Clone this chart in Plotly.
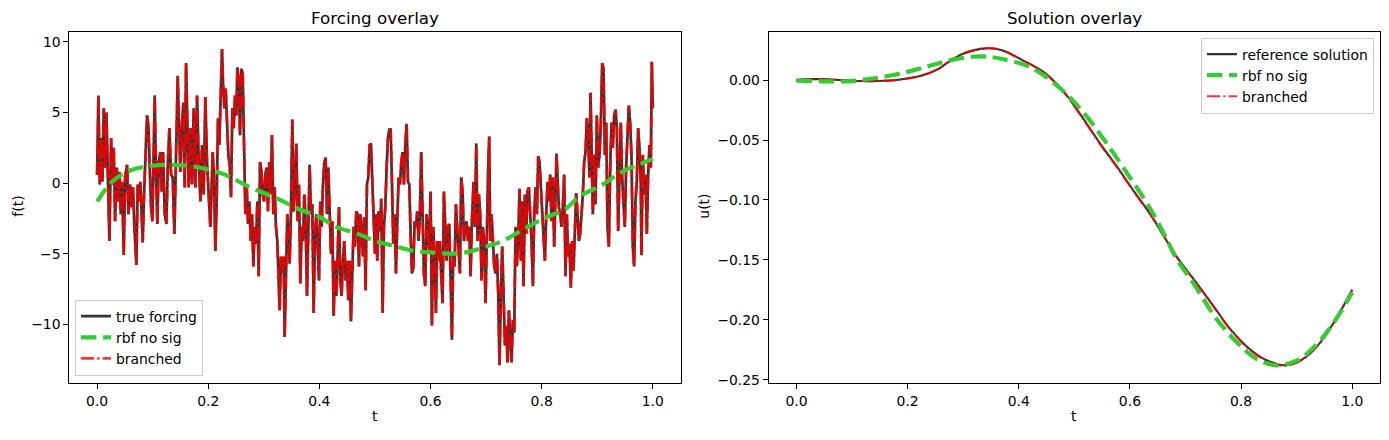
import plotly.graph_objects as go

# ---------------- data: forcing overlay (left) ----------------
T_FORCE = [
    0.0000, 0.0024, 0.0048, 0.0078, 0.0096, 0.0120, 0.0144, 0.0168, 0.0192, 0.0222,
    0.0252, 0.0276, 0.0300, 0.0324, 0.0354, 0.0378, 0.0402, 0.0426, 0.0450, 0.0480,
    0.0504, 0.0540, 0.0564, 0.0594, 0.0624, 0.0647, 0.0671, 0.0707, 0.0731, 0.0755,
    0.0779, 0.0803, 0.0821, 0.0845, 0.0875, 0.0899, 0.0923, 0.0947, 0.0971, 0.0995,
    0.1019, 0.1037, 0.1061, 0.1085, 0.1109, 0.1139, 0.1163, 0.1187, 0.1217, 0.1247,
    0.1271, 0.1301, 0.1331, 0.1361, 0.1391, 0.1421, 0.1451, 0.1475, 0.1499, 0.1529,
    0.1553, 0.1577, 0.1601,
    0.1649, 0.1679, 0.1709, 0.1739, 0.1769, 0.1799, 0.1829, 0.1859, 0.1888, 0.1918,
    0.1948, 0.1978, 0.2008, 0.2038, 0.2056, 0.2080, 0.2104, 0.2128, 0.2152, 0.2176,
    0.2200, 0.2224, 0.2248, 0.2266, 0.2290, 0.2314, 0.2338, 0.2362, 0.2386, 0.2410,
    0.2434, 0.2458, 0.2482, 0.2506, 0.2524, 0.2548, 0.2572, 0.2596, 0.2620, 0.2644,
    0.2668, 0.2692, 0.2716, 0.2740, 0.2764, 0.2788, 0.2812, 0.2836, 0.2860, 0.2884,
    0.2908, 0.2932, 0.2956, 0.2980, 0.3004, 0.3027, 0.3051, 0.3075, 0.3099, 0.3123,
    0.3147, 0.3171, 0.3195, 0.3219, 0.3243,
    0.3285, 0.3309, 0.3333, 0.3357, 0.3375, 0.3399, 0.3423, 0.3447, 0.3465, 0.3489,
    0.3513, 0.3537, 0.3561, 0.3585, 0.3609, 0.3633, 0.3657, 0.3681, 0.3705, 0.3729,
    0.3753, 0.3777, 0.3801, 0.3825, 0.3849, 0.3873, 0.3897, 0.3921, 0.3945, 0.3969,
    0.3993, 0.4017, 0.4041, 0.4065, 0.4089, 0.4113, 0.4137, 0.4161, 0.4185, 0.4209,
    0.4233, 0.4257, 0.4281, 0.4305, 0.4329, 0.4353, 0.4376, 0.4400, 0.4424, 0.4448,
    0.4472, 0.4496, 0.4520, 0.4544, 0.4568, 0.4592, 0.4616, 0.4640, 0.4664, 0.4688,
    0.4712, 0.4736, 0.4760, 0.4784, 0.4808, 0.4832, 0.4856, 0.4880, 0.4904, 0.4928,
    0.4952, 0.4976, 0.5000, 0.5024,
    0.5042, 0.5066, 0.5090, 0.5114, 0.5138, 0.5162, 0.5186, 0.5210, 0.5234, 0.5258,
    0.5282, 0.5306, 0.5330, 0.5354, 0.5378, 0.5402, 0.5426, 0.5450, 0.5474, 0.5498,
    0.5522, 0.5546, 0.5570, 0.5594, 0.5618, 0.5642, 0.5666, 0.5690, 0.5714, 0.5737,
    0.5761, 0.5785, 0.5809, 0.5833, 0.5857, 0.5881, 0.5905, 0.5929, 0.5953, 0.5977,
    0.6001, 0.6025, 0.6049, 0.6073, 0.6097, 0.6121, 0.6145, 0.6169, 0.6193, 0.6217,
    0.6241, 0.6265, 0.6289, 0.6313, 0.6337, 0.6361, 0.6385, 0.6409, 0.6433, 0.6457,
    0.6481, 0.6505, 0.6529, 0.6553, 0.6577, 0.6601, 0.6625, 0.6649, 0.6673, 0.6697,
    0.6721, 0.6745,
    0.6775, 0.6799, 0.6823, 0.6847, 0.6871, 0.6894, 0.6918, 0.6942, 0.6966, 0.6990,
    0.7014, 0.7038, 0.7056, 0.7074, 0.7098, 0.7122, 0.7146, 0.7170, 0.7194, 0.7218,
    0.7242, 0.7266, 0.7290, 0.7314, 0.7338, 0.7362, 0.7386, 0.7410, 0.7434, 0.7458,
    0.7482, 0.7506, 0.7530, 0.7554, 0.7578, 0.7602, 0.7626, 0.7650, 0.7674, 0.7698,
    0.7722, 0.7746, 0.7770, 0.7794, 0.7818, 0.7842, 0.7866, 0.7890, 0.7914, 0.7938,
    0.7962, 0.7986, 0.8010, 0.8034, 0.8058, 0.8082, 0.8106, 0.8129, 0.8153, 0.8177,
    0.8201, 0.8225, 0.8249, 0.8267, 0.8285, 0.8309, 0.8333, 0.8357, 0.8381, 0.8405,
    0.8429, 0.8453,
    0.8477, 0.8501, 0.8525, 0.8549, 0.8573, 0.8597, 0.8621, 0.8645, 0.8669, 0.8693,
    0.8717, 0.8741, 0.8765, 0.8789, 0.8813, 0.8837, 0.8861, 0.8879, 0.8897, 0.8921,
    0.8945, 0.8969, 0.8993, 0.9017, 0.9041, 0.9065, 0.9089, 0.9113, 0.9137, 0.9161,
    0.9185, 0.9209, 0.9233, 0.9257, 0.9281, 0.9305, 0.9329, 0.9353, 0.9376, 0.9400,
    0.9424, 0.9448, 0.9472, 0.9496, 0.9520, 0.9544, 0.9568, 0.9592, 0.9616, 0.9640,
    0.9664, 0.9688, 0.9712, 0.9736, 0.9760, 0.9784, 0.9796, 0.9820, 0.9844, 0.9868,
    0.9892, 0.9916, 0.9940, 0.9964, 0.9982, 1.0000,
]
F_TRUE = [
    0.6, 6.2, -0.1, 3.2, 0.1, 5.3, 1.1, 5.0, 0.8, -4.1,
    3.2, -0.1, 2.5, -2.7, 1.1, -1.3, 0.8, -2.2, 0.1, -5.1,
    0.4, 1.3, -2.2, -0.1, -1.7, -0.3, -3.1, -5.8, -0.1, -1.3,
    0.1, -2.2, -4.2, -0.8, 2.0, 4.8, 4.1, 1.1, -1.7, -2.7,
    2.7, 6.2, 0.4, -2.9, 1.5, 2.2, -0.6, 2.2, -2.2, -2.9,
    1.1, 3.9, 0.6, 0.4, -3.6, 2.7, 7.6, 3.9, 0.8, 4.3,
    5.7, -0.3, 8.5,
    -0.3, 3.9, -0.1, 5.3, -0.3, 6.2, 1.5, -1.3, 2.7, -0.8,
    6.1, 1.5, -0.8, -3.1, -1.0, 2.2, 0.4, -4.8, -1.3, 4.6,
    2.7, 6.4, 9.5, 7.1, 5.3, 6.7, 3.9, 2.0, 1.3, -1.0,
    5.3, 3.9, 6.2, 4.8, 8.2, 7.4, 3.4, 8.1, 7.8, 3.2,
    -2.2, -0.1, -2.9, -1.3, -4.1, -2.2, -5.9, -3.1, -4.3, -1.3,
    -6.6, 1.5, 0.9, -0.8, -1.3, 0.6, 1.1, -2.0, 1.5, -0.8,
    3.4, -2.2, -0.3, -3.1, -4.1,
    -9.0, -5.2, -6.4, -5.2, -10.9, -5.5, -2.2, -3.6, -5.7, -2.0,
    4.5, -2.0, -0.3, 2.8, -2.7, -0.1, -7.1, -3.1, -4.1, -0.8,
    -2.7, -8.0, -3.1, 1.3, -2.2, -1.5, -9.2, -3.6, -2.2, -5.0,
    -6.9, -1.3, -3.1, -0.1, 1.5, 1.8, -2.2, 1.1, -2.4, -5.0,
    -2.7, -9.4, -5.5, -8.0, -5.0, -1.7, -6.9, -8.0, -5.5, -4.1,
    -6.9, -5.5, -8.3, -5.5, -9.8, -6.4, -3.1, -4.5, -2.0, -2.2,
    -5.9, -2.2, -3.1, -5.2, -2.4, -7.6, -0.1, 0.4, 2.7, 2.8,
    -0.1, -2.0, -5.0, -2.2,
    -5.5, -2.0, -3.4, -1.1, -9.2, -3.1, -1.7, 1.1, 3.2, 3.8,
    3.8, 0.1, -4.3, -2.2, -6.4, -2.7, 0.4, -0.1, 1.5, 2.2,
    -0.1, 2.7, 4.2, 0.1, -0.1, -3.6, -6.4, -6.0, -2.7, -3.1,
    -2.0, -4.1, -2.2, 2.2, -2.2, -6.4, -7.3, -2.2, -3.4, -4.8,
    -0.6, -10.1, -3.1, -5.2, -9.2, -4.1, -5.5, -4.1, -6.6, -8.5,
    -0.6, -3.6, -5.5, -3.1, -2.9, -6.6, -11.1, -5.0, -5.9, -1.5,
    -3.1, -4.1, -6.4, 0.4, -0.6, -4.1, -3.1, -2.7, -4.1, -3.1,
    -6.6, -2.7,
    0.1, -3.1, 2.8, -4.1, -0.8, -2.2, -6.9, -3.1, -4.1, -8.5,
    -2.4, 1.1, 3.3, -4.1, -2.2, -4.1, -5.9, -6.4, -5.0, -7.8,
    -12.9, -7.8, -4.5, -7.8, -11.5, -10.1, -12.7, -9.0, -10.6, -12.7,
    -9.7, -10.6, -3.1, -5.9, -4.1, -0.4, -5.5, -1.3, -7.3, -0.8,
    -3.6, -0.6, -0.3, -2.2, -4.1, -7.3, -2.2, -0.3, -2.2, 1.9,
    1.5, -0.3, -2.2, -4.1, -5.5, -2.2, 0.1, -1.3, 0.6, -2.7,
    0.4, -4.5, -1.5, 2.1, 0.4, -1.7, -2.2, -3.1, -1.7, 0.6,
    -6.6, -2.2,
    -5.2, -4.3, -7.4, -4.1, -6.2, -3.1, -0.7, -2.2, -4.1, -3.6,
    -2.2, -0.8, 1.5, 2.2, 4.6, 3.2, 0.4, 6.4, 2.7, -2.2,
    2.0, -1.5, 4.8, 1.1, 2.0, 4.3, 8.5, 8.1, 2.0, 4.3,
    -3.1, -4.5, 1.1, 4.3, 2.5, 4.8, 5.2, 3.9, -3.4, 1.1,
    4.3, 0.4, -1.3, -3.1, 1.1, 3.9, 5.5, 4.3, 2.0, -4.5,
    -5.9, -1.3, 0.1, 3.9, 2.5, -0.1, -5.1, 2.0, -0.8, 0.6,
    -3.6, 0.6, 2.7, 1.1, 8.6, 5.3,
]
# the branched reconstruction lies on top of the true forcing
F_BRANCHED = list(F_TRUE)

T_RBF_F = [0.0, 0.027, 0.054, 0.072, 0.10, 0.13, 0.16, 0.19, 0.23, 0.27, 0.33, 0.36,
           0.40, 0.43, 0.47, 0.50, 0.53, 0.57, 0.60, 0.64, 0.67, 0.70, 0.73, 0.77,
           0.81, 0.84, 0.87, 0.91, 0.94, 0.98, 1.0]
F_RBF = [-1.3, 0.1, 0.8, 1.05, 1.25, 1.3, 1.25, 1.05, 0.6, -0.2, -1.2, -1.8,
         -2.4, -3.1, -3.6, -4.1, -4.4, -4.8, -4.9, -5.0, -4.85, -4.5, -4.1, -3.2,
         -2.4, -1.9, -0.9, -0.1, 0.7, 1.4, 1.7]

# ---------------- data: solution overlay (right) ----------------
T_REF = [0.0, 0.033, 0.069, 0.11, 0.147, 0.183, 0.224, 0.254, 0.272, 0.30, 0.341,
         0.37, 0.404, 0.446, 0.482, 0.512, 0.548, 0.578, 0.607, 0.637, 0.685, 0.721,
         0.751, 0.781, 0.817, 0.847, 0.877, 0.907, 0.937, 0.966, 1.0]
U_REF = [0.0, 0.0008, 0.0003, -0.0008, -0.0008, 0.0003, 0.0036, 0.009, 0.0146, 0.022,
         0.0265, 0.025, 0.0173, 0.0063, -0.0102, -0.0294, -0.054, -0.073, -0.0927,
         -0.112, -0.148, -0.170, -0.189, -0.208, -0.225, -0.234, -0.238, -0.234,
         -0.222, -0.203, -0.175]
U_BRANCHED = [0.0, 0.0009, 0.0004, -0.0007, -0.0008, 0.0002, 0.0035, 0.0092, 0.0148,
              0.0222, 0.0266, 0.0249, 0.0171, 0.0060, -0.0106, -0.0299, -0.0545,
              -0.0736, -0.0931, -0.1124, -0.1484, -0.1704, -0.1894, -0.2085, -0.2256,
              -0.2345, -0.2385, -0.2343, -0.2222, -0.2031, -0.1752]
T_RBF_U = [0.0, 0.045, 0.093, 0.129, 0.171, 0.212, 0.248, 0.284, 0.33, 0.368, 0.422,
           0.476, 0.518, 0.56, 0.601, 0.631, 0.661, 0.685, 0.715, 0.757, 0.793, 0.829,
           0.865, 0.901, 0.937, 0.966, 1.0]
U_RBF = [-0.0005, -0.001, -0.001, 0.0008, 0.004, 0.0083, 0.013, 0.0173, 0.0198, 0.0178,
         0.0105, -0.0074, -0.028, -0.054, -0.082, -0.103, -0.128, -0.150, -0.170,
         -0.200, -0.219, -0.233, -0.238, -0.234, -0.220, -0.203, -0.177]

X_TICKS = [0.0, 0.2, 0.4, 0.6, 0.8, 1.0]
F_TICKS = [-10, -5, 0, 5, 10]
U_TICKS = [0.0, -0.05, -0.10, -0.15, -0.20, -0.25]

# ---------------- styling ----------------
W, H = 1389, 440
FONT = "DejaVu Sans, Arial, sans-serif"
BLACK = "rgba(0,0,0,0.8)"
RED = "rgba(255,0,0,0.8)"
GREEN = "#32cd32"
LW = 2.1
LW_FORCE = 2.7
RED_DASH = "13px,3.3px,2.1px,3.3px"
GREEN_DASH = "15.4px,6.7px"
TICK_FS = 13.9


def px_x(p):
    return p / W


def px_y(p):
    return 1 - p / H


fig = go.Figure()

# left panel
fig.add_trace(go.Scatter(x=T_FORCE, y=F_TRUE, mode="lines", name="true forcing",
                         line=dict(color=BLACK, width=LW_FORCE), xaxis="x", yaxis="y",
                         legend="legend", legendrank=1))
fig.add_trace(go.Scatter(x=T_FORCE, y=F_BRANCHED, mode="lines", name="branched",
                         line=dict(color=RED, width=LW_FORCE, dash=RED_DASH), xaxis="x", yaxis="y",
                         legend="legend", legendrank=3))
fig.add_trace(go.Scatter(x=T_RBF_F, y=F_RBF, mode="lines", name="rbf no sig",
                         line=dict(color=GREEN, width=4.2, dash=GREEN_DASH, shape="spline"),
                         xaxis="x", yaxis="y", legend="legend", legendrank=2))

# right panel
fig.add_trace(go.Scatter(x=T_REF, y=U_REF, mode="lines", name="reference solution",
                         line=dict(color=BLACK, width=LW, shape="spline"), xaxis="x2", yaxis="y2",
                         legend="legend2", legendrank=1))
fig.add_trace(go.Scatter(x=T_REF, y=U_BRANCHED, mode="lines", name="branched",
                         line=dict(color=RED, width=LW, dash=RED_DASH, shape="spline"),
                         xaxis="x2", yaxis="y2", legend="legend2", legendrank=3))
fig.add_trace(go.Scatter(x=T_RBF_U, y=U_RBF, mode="lines", name="rbf no sig",
                         line=dict(color=GREEN, width=4.2, dash=GREEN_DASH, shape="spline"),
                         xaxis="x2", yaxis="y2", legend="legend2", legendrank=2))

ydom = [px_y(387.3), px_y(32.3)]
axis_common = dict(showline=True, linecolor="black", linewidth=1.1, mirror=True,
                   ticks="outside", ticklen=4.9, tickwidth=1.1, tickcolor="black",
                   showgrid=False, zeroline=False,
                   tickfont=dict(family=FONT, size=TICK_FS, color="black"))

fig.update_layout(
    width=W, height=H,
    margin=dict(l=0, r=0, t=0, b=0),
    paper_bgcolor="white", plot_bgcolor="white",
    font=dict(family=FONT, size=TICK_FS, color="black"),
    xaxis=dict(domain=[px_x(69.3), px_x(680.6)], range=[-0.05, 1.05], anchor="y",
               tickvals=X_TICKS, tickformat=".1f", **axis_common),
    yaxis=dict(domain=ydom, range=[-14.15, 10.71], anchor="x",
               tickvals=F_TICKS, **axis_common),
    xaxis2=dict(domain=[px_x(768.7), px_x(1380)], range=[-0.05, 1.05], anchor="y2",
                tickvals=X_TICKS, tickformat=".1f", **axis_common),
    yaxis2=dict(domain=ydom, range=[-0.2527, 0.0402], anchor="x2",
                tickvals=U_TICKS, tickformat=".2f", **axis_common),
    legend=dict(x=px_x(75), y=px_y(380), xanchor="left", yanchor="bottom",
                bgcolor="rgba(255,255,255,0.8)", bordercolor="#cccccc", borderwidth=1,
                font=dict(family=FONT, size=TICK_FS, color="black"),
                tracegroupgap=0, itemwidth=30),
    legend2=dict(x=px_x(1374), y=px_y(38), xanchor="right", yanchor="top",
                 bgcolor="rgba(255,255,255,0.8)", bordercolor="#cccccc", borderwidth=1,
                 font=dict(family=FONT, size=TICK_FS, color="black"),
                 tracegroupgap=0, itemwidth=30),
    showlegend=True,
)

annotations = [
    dict(text="Forcing overlay", x=px_x((69.3 + 680.6) / 2), y=px_y(18), xref="paper", yref="paper",
         showarrow=False, xanchor="center", yanchor="middle", font=dict(family=FONT, size=16.7)),
    dict(text="Solution overlay", x=px_x((768.7 + 1380) / 2), y=px_y(18), xref="paper", yref="paper",
         showarrow=False, xanchor="center", yanchor="middle", font=dict(family=FONT, size=16.7)),
    dict(text="t", x=px_x((69.3 + 680.6) / 2), y=px_y(421), xref="paper", yref="paper",
         showarrow=False, xanchor="center", yanchor="middle", font=dict(family=FONT, size=TICK_FS)),
    dict(text="t", x=px_x((768.7 + 1380) / 2), y=px_y(421), xref="paper", yref="paper",
         showarrow=False, xanchor="center", yanchor="middle", font=dict(family=FONT, size=TICK_FS)),
    dict(text="f(t)", x=px_x(18), y=px_y(209), xref="paper", yref="paper", textangle=-90,
         showarrow=False, xanchor="center", yanchor="middle", font=dict(family=FONT, size=TICK_FS)),
    dict(text="u(t)", x=px_x(704), y=px_y(209), xref="paper", yref="paper", textangle=-90,
         showarrow=False, xanchor="center", yanchor="middle", font=dict(family=FONT, size=TICK_FS)),
]
fig.update_layout(annotations=annotations)

fig.write_html("out.html")
